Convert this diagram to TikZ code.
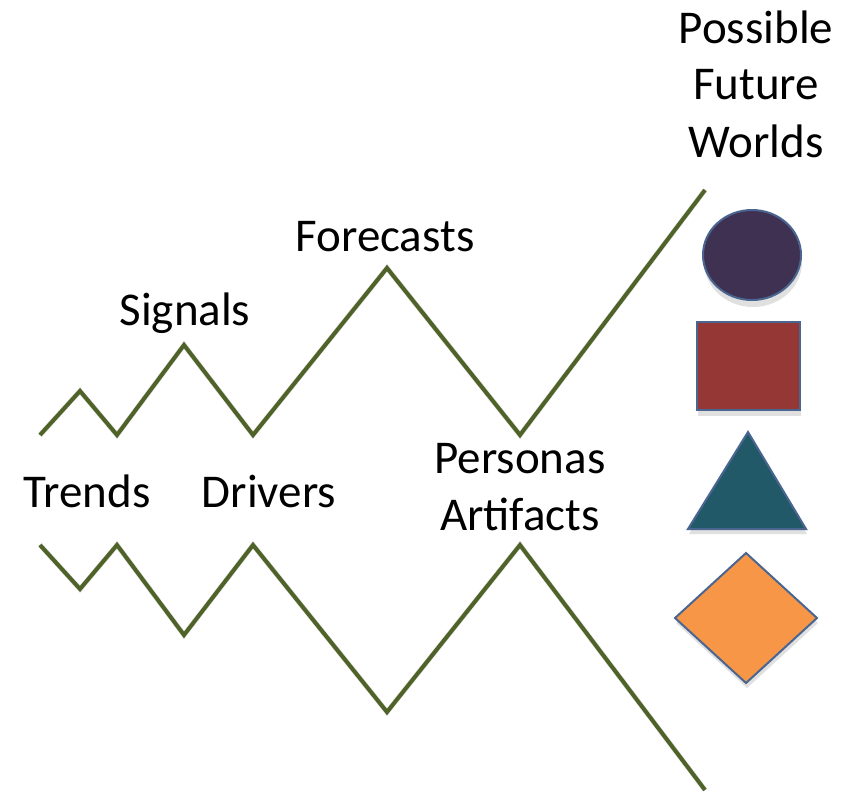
\documentclass[tikz,border=0pt]{standalone}
\usepackage{fontspec}
\setmainfont{Carlito}
\usepackage{tikz}
\usetikzlibrary{positioning}
\definecolor{olive}{HTML}{4F6228}
\definecolor{purpl}{HTML}{3F3151}
\definecolor{brick}{HTML}{953735}
\definecolor{teal}{HTML}{215968}
\definecolor{orng}{HTML}{F79646}
\definecolor{edge}{HTML}{4A6690}
\tikzset{
  label/.style={font=\fontsize{23.5}{28.5}\selectfont, anchor=base, align=center, inner sep=0pt},
  zig/.style={draw=olive, line width=2pt, line join=miter},
  zigshadow/.style={draw=black!12, line width=2.6pt, line join=miter},
  world/.style={draw=edge, line width=1pt},
  worldshadow/.style={fill=black!12}
}

\begin{document}
\begin{tikzpicture}[x=0.5pt,y=-0.5pt]
\useasboundingbox (0,0) rectangle (856,792);
% upper path
\coordinate (u0) at (40,435);
\coordinate (u1) at (80,391);
\coordinate (u2) at (117,435);
\coordinate (u3) at (184,345);
\coordinate (u4) at (253,435);
\coordinate (u5) at (387,268);
\coordinate (u6) at (520,435);
\coordinate (u7) at (705,190);
% lower path
\coordinate (l0) at (40,545);
\coordinate (l1) at (80,589);
\coordinate (l2) at (117,545);
\coordinate (l3) at (184,635);
\coordinate (l4) at (253,545);
\coordinate (l5) at (387,712);
\coordinate (l6) at (520,545);
\coordinate (l7) at (705,790);
\begin{scope}[shift={(2,4)}]
\draw [zigshadow] (u0) -- (u1) -- (u2) -- (u3) -- (u4) -- (u5) -- (u6) -- (u7);
\draw [zigshadow] (l0) -- (l1) -- (l2) -- (l3) -- (l4) -- (l5) -- (l6) -- (l7);
\end{scope}
\draw [zig] (u0) -- (u1) -- (u2) -- (u3) -- (u4) -- (u5) -- (u6) -- (u7);
\draw [zig] (l0) -- (l1) -- (l2) -- (l3) -- (l4) -- (l5) -- (l6) -- (l7);
% labels (base = last line)
\node [label] (worlds) at (756,157) {Possible\\Future\\Worlds};
\node [label] (forecasts) at (385,251) {Forecasts};
\node [label] (signals) at (185,325) {Signals};
\node [label] (trends) at (87,507) {Trends};
\node [label] (drivers) at (269,507) {Drivers};
\node [label] (personas) at (520,530) {Personas\\Artifacts};
% worlds
\fill [worldshadow] (753,262) ellipse [x radius=49, y radius=45];
\draw [world, fill=purpl] (752,255) ellipse [x radius=49, y radius=45];
\fill [worldshadow] (698,326) rectangle (801,416);
\draw [world, fill=brick] (697,322) rectangle (800,410);
\fill [worldshadow] (748,436) -- (807,534) -- (689,534) -- cycle;
\draw [world, fill=teal] (748,432) -- (806,529) -- (688,529) -- cycle;
\fill [worldshadow] (747,558) -- (818,623) -- (747,688) -- (676,623) -- cycle;
\draw [world, fill=orng] (746,553) -- (817,618) -- (746,683) -- (675,618) -- cycle;
\end{tikzpicture}
\end{document}
